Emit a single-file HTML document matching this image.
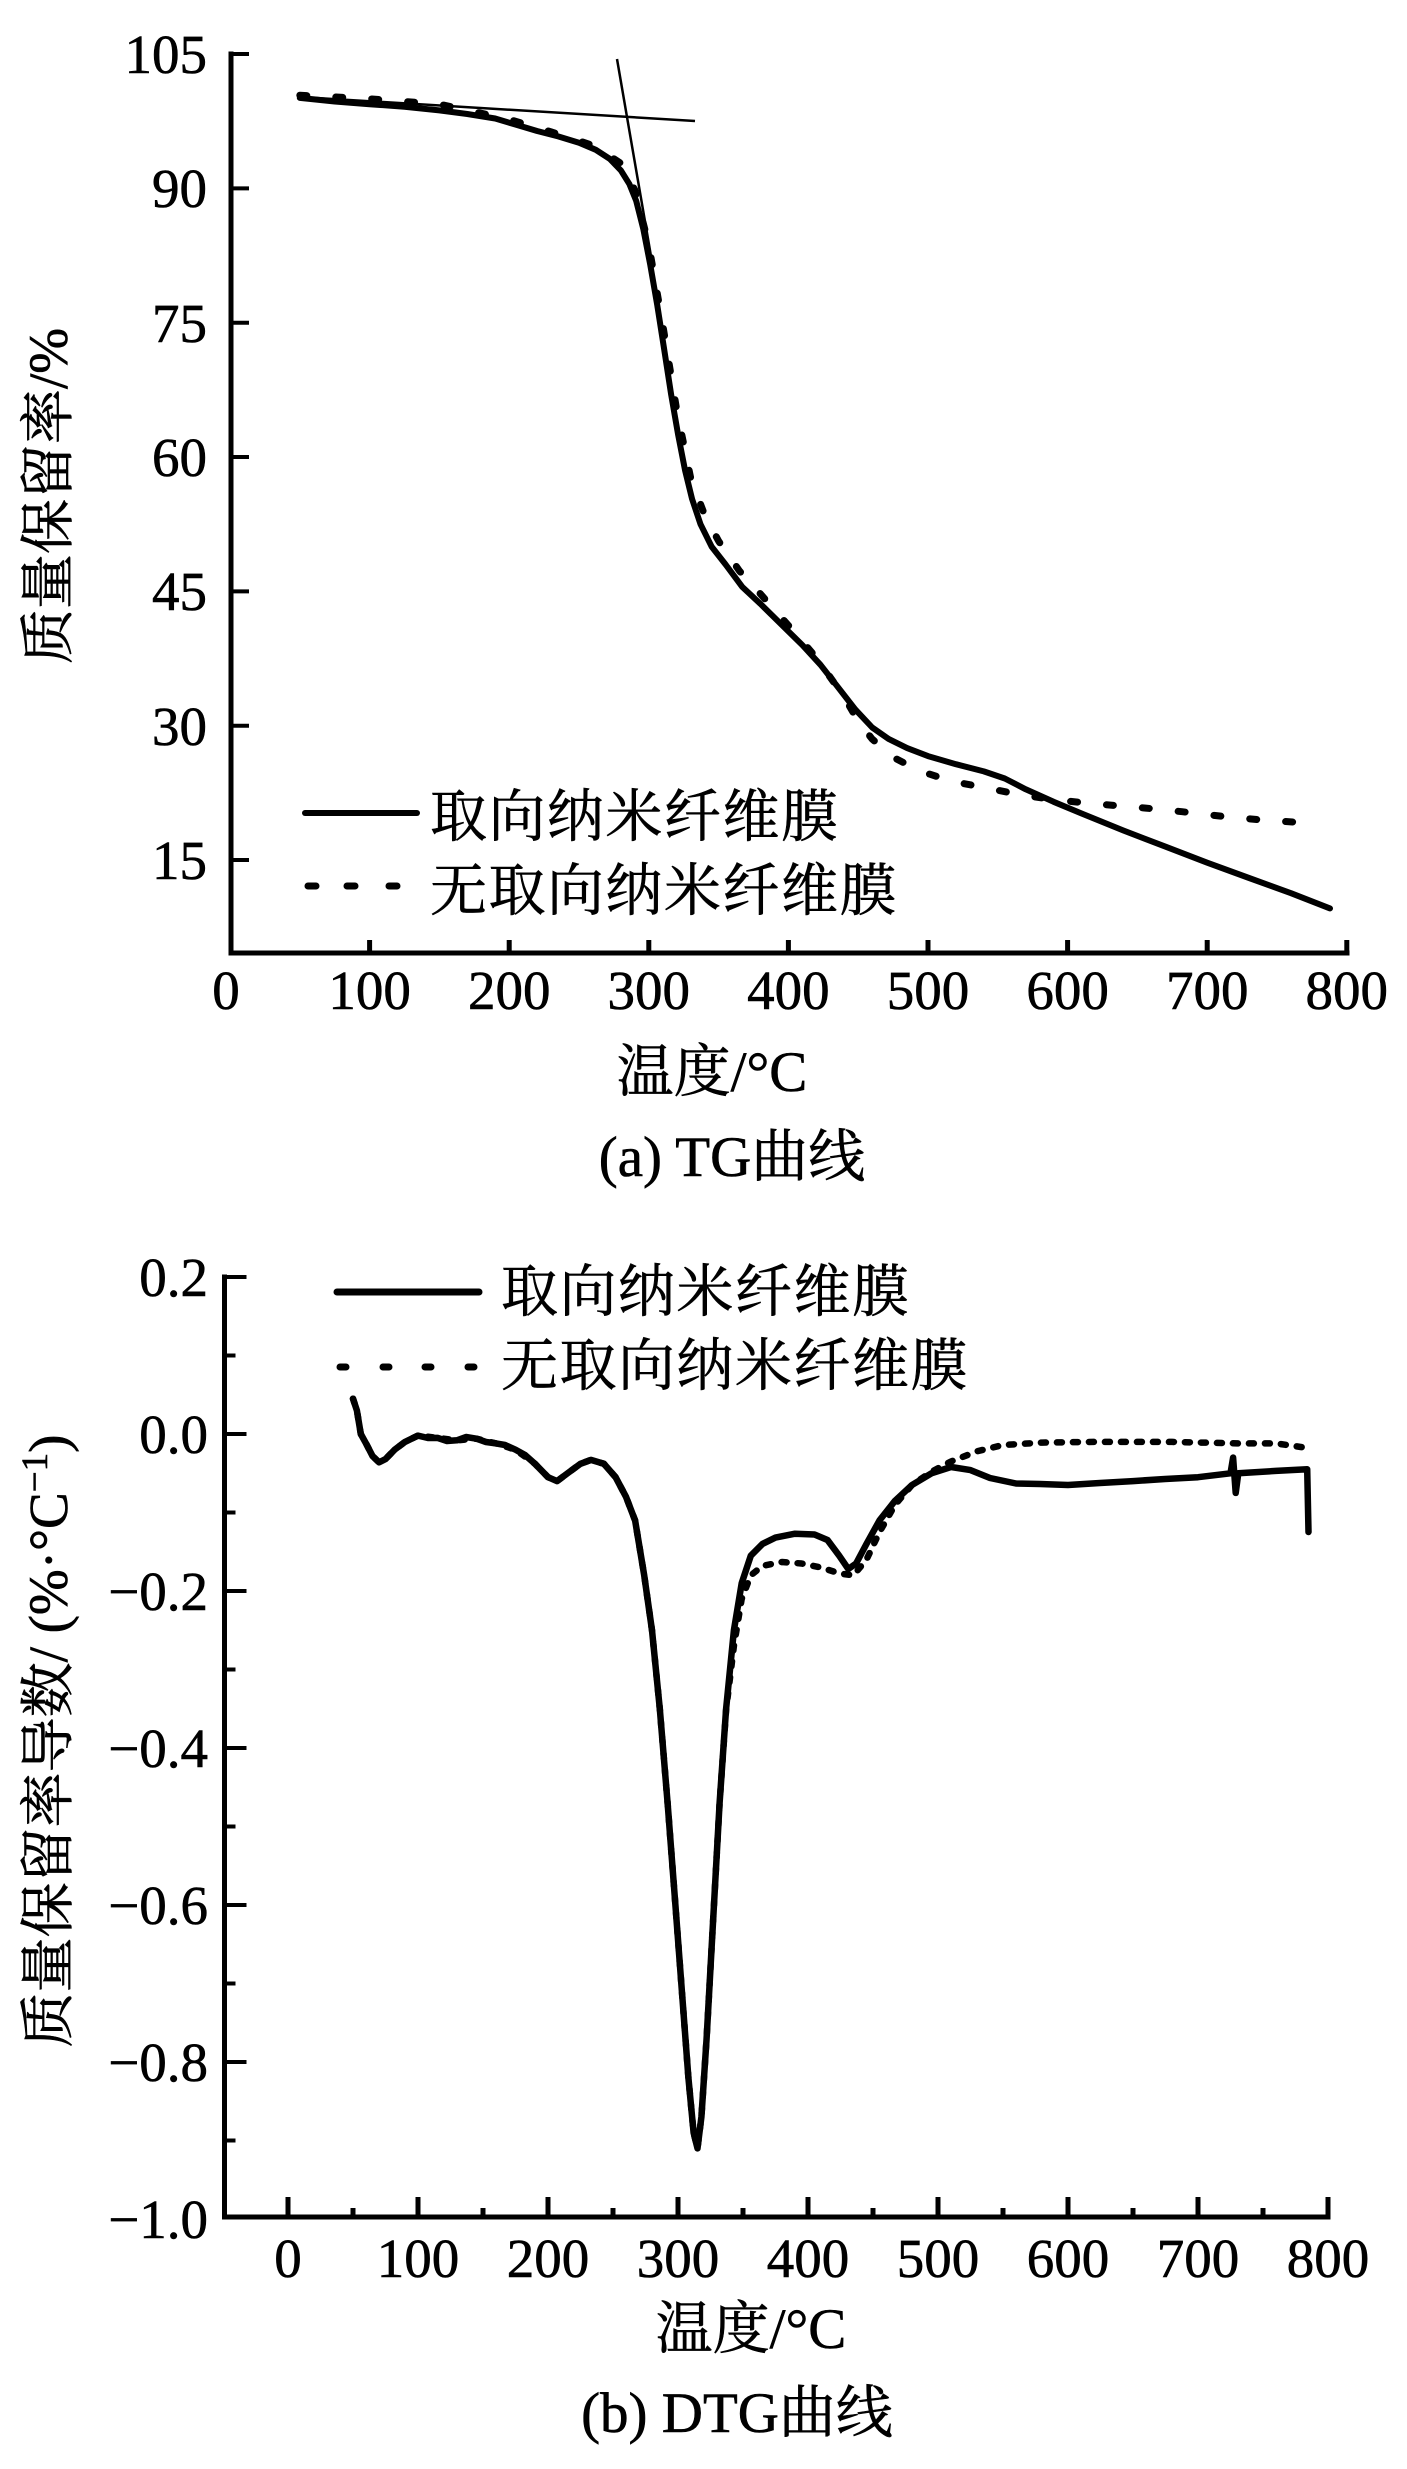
<!DOCTYPE html>
<html><head><meta charset="utf-8"><style>
html,body{margin:0;padding:0;background:#fff;}
svg{display:block;}
.t{font-family:"Liberation Serif","Noto Serif CJK SC",serif;font-size:55px;fill:#000;stroke:#000;stroke-width:0.6px;}
.c{font-family:"Liberation Serif","Noto Serif CJK SC",serif;font-size:57px;fill:#000;stroke:#000;stroke-width:0.6px;}
</style></head><body>
<svg width="1407" height="2469" viewBox="0 0 1407 2469" xmlns="http://www.w3.org/2000/svg">
<rect width="1407" height="2469" fill="#fff"/>

<!-- ===== TOP: TG ===== -->
<g stroke="#000" fill="none">
<path d="M231 54 L231 953 L1347 953" stroke-width="5" stroke-linecap="square"/>
<path d="M231 54h18M231 188.4h18M231 322.7h18M231 457h18M231 591.4h18M231 725.7h18M231 860h18" stroke-width="4"/>
<path d="M369.6 953v-13M509.2 953v-13M648.8 953v-13M788.4 953v-13M928 953v-13M1067.6 953v-13M1207.2 953v-13M1346.8 953v-13" stroke-width="5"/>
</g>
<g class="t" text-anchor="end">
<text x="207" y="73">105</text>
<text x="207" y="207">90</text>
<text x="207" y="342">75</text>
<text x="207" y="476">60</text>
<text x="207" y="610">45</text>
<text x="207" y="745">30</text>
<text x="207" y="879">15</text>
</g>
<g class="t" text-anchor="middle">
<text x="226" y="1009">0</text>
<text x="369.6" y="1009">100</text>
<text x="509.2" y="1009">200</text>
<text x="648.8" y="1009">300</text>
<text x="788.4" y="1009">400</text>
<text x="928" y="1009">500</text>
<text x="1067.6" y="1009">600</text>
<text x="1207.2" y="1009">700</text>
<text x="1346.8" y="1009">800</text>
</g>
<text class="t" transform="translate(47,496) rotate(-90)" y="20" text-anchor="middle" font-size="57">质量保留率/%</text>
<text class="c" x="712" y="1091" text-anchor="middle">温度/°C</text>
<text class="c" x="732" y="1176" text-anchor="middle">(a) TG曲线</text>

<!-- tangents -->
<g stroke="#000" stroke-width="2.5" fill="none">
<line x1="300" y1="97" x2="695" y2="121"/>
<line x1="617" y1="59" x2="652" y2="262"/>
</g>

<!-- TG solid -->
<polyline fill="none" stroke="#000" stroke-width="6" stroke-linejoin="round" stroke-linecap="round" points="
299.8,97.9 334.7,101.5 369.6,104.2 404.5,106.8 439.4,110.4 467.3,114.0 495.2,118.5 516.2,124.8 537.1,131.0 558.1,136.4 579.0,142.7 595.8,149.8 609.7,158.8 620.9,170.4 629.3,183.9 636.2,200.9 643.2,228.6 650.2,264.5 657.2,304.8 664.2,349.5 671.1,394.3 678.1,434.6 685.1,470.5 692.1,499.1 700.5,524.2 711.6,546.6 725.6,564.5 742.3,586.9 760.5,603.9 781.4,624.5 802.4,645.1 820.5,664.8 837.3,686.3 855.4,709.6 872.2,727.5 888.9,739.1 907.1,748.1 928.0,756.1 955.9,764.2 983.8,771.4 1004.8,778.5 1025.7,789.3 1053.6,801.8 1081.6,813.5 1123.4,830.5 1165.3,846.6 1207.2,862.7 1249.1,878.0 1291.0,893.2 1330.0,908.4"/>

<!-- TG dotted -->
<polyline fill="none" stroke="#000" stroke-width="7" stroke-linecap="round" stroke-linejoin="round" stroke-dasharray="7 29" points="
299.8,95.2 369.6,98.8 439.4,104.2 509.2,119.4 551.1,131.9 593.0,145.4 620.9,163.3 634.8,190 648.8,245 662.8,325 676.7,410 690.7,478 704.6,515 718.6,541 739.5,571 760.5,594 788.4,625.4 816.3,657.6 844.2,697.0 858.2,721.2 872.2,739.1 894.5,758.0 921.0,771.4 951.7,781.2 983.8,787.5 1020.1,794.7 1056.4,800.0 1092.7,803.6 1145.8,808.1 1182.1,811.7 1221.2,816.2 1258.9,819.7 1297.9,822.4"/>

<!-- TG legend -->
<line x1="305" y1="813" x2="417" y2="813" stroke="#000" stroke-width="6" stroke-linecap="round"/>
<path d="M308 886h8M347 886h8M389 886h8" stroke="#000" stroke-width="7" stroke-linecap="round"/>
<text class="c" x="430" y="836" letter-spacing="1.5">取向纳米纤维膜</text>
<text class="c" x="430" y="910" letter-spacing="1.5">无取向纳米纤维膜</text>

<!-- ===== BOTTOM: DTG ===== -->
<g stroke="#000" fill="none">
<path d="M224.5 1277 L224.5 2217 L1328 2217" stroke-width="5" stroke-linecap="square"/>
<path d="M224.5 1277h22M224.5 1434h22M224.5 1591h22M224.5 1748h22M224.5 1905h22M224.5 2062h22" stroke-width="4"/>
<path d="M224.5 1355.5h11M224.5 1512.5h11M224.5 1669.5h11M224.5 1826.5h11M224.5 1983.5h11M224.5 2140.5h11" stroke-width="4"/>
<path d="M288 2217v-20M418 2217v-20M548 2217v-20M678 2217v-20M808 2217v-20M938 2217v-20M1068 2217v-20M1198 2217v-20M1328 2217v-20" stroke-width="5"/>
<path d="M353 2217v-9M483 2217v-9M613 2217v-9M743 2217v-9M873 2217v-9M1003 2217v-9M1133 2217v-9M1263 2217v-9" stroke-width="5"/>
</g>
<g class="t" text-anchor="end">
<text x="208" y="1296">0.2</text>
<text x="208" y="1453">0.0</text>
<text x="208" y="1610">−0.2</text>
<text x="208" y="1767">−0.4</text>
<text x="208" y="1924">−0.6</text>
<text x="208" y="2081">−0.8</text>
<text x="208" y="2238">−1.0</text>
</g>
<g class="t" text-anchor="middle">
<text x="288" y="2277">0</text>
<text x="418" y="2277">100</text>
<text x="548" y="2277">200</text>
<text x="678" y="2277">300</text>
<text x="808" y="2277">400</text>
<text x="938" y="2277">500</text>
<text x="1068" y="2277">600</text>
<text x="1198" y="2277">700</text>
<text x="1328" y="2277">800</text>
</g>
<text class="t" transform="translate(47,1741) rotate(-90)" y="20" text-anchor="middle" font-size="58">质量保留率导数/ (%·°C<tspan font-size="37" dy="-20">−1</tspan><tspan dy="20">)</tspan></text>
<text class="c" x="751" y="2348" text-anchor="middle">温度/°C</text>
<text class="c" x="737" y="2432" text-anchor="middle">(b) DTG曲线</text>

<!-- DTG dotted -->
<polyline fill="none" stroke="#000" stroke-width="6.5" stroke-linecap="round" stroke-linejoin="round" stroke-dasharray="5 11" points="
353,1398.7 356.9,1410.5 360.8,1434 366,1443.4 372.5,1456 379,1462.3 385.5,1459.1 394.6,1449.7 405,1441.9 418,1435.6 437.5,1437.9 457,1440.3 476.5,1438.7 496,1443.4 515.5,1449.7 535,1463.8 548,1477.2 557.1,1481.1 567.5,1473.3 580.5,1463.8 590.9,1459.9 603.9,1463.8 615.6,1477.2 626,1496.8 635.1,1520.4 644.2,1575.3 652,1630.3 659.8,1708.8 667.6,1803 675.4,1905 681.9,1991.4 688.4,2077.7 693.6,2132.7 697.5,2148.4 701.4,2117 706.6,2038.5 713.1,1920.7 719.6,1803 726.1,1710 733.9,1646 741.7,1598.9 750.8,1575.3 762.5,1565.9 782,1562 801.5,1563.5 821,1567.5 840.5,1573.7 853.5,1575.3 866.5,1559.6 879.5,1532.1 895.1,1504.7 912,1485 931.5,1471.7 951,1461.5 977,1451.3 1003,1445 1042,1442.6 1094,1441.9 1172,1441.9 1237,1443.4 1276,1443.4 1308.5,1448.1"/>

<!-- DTG solid -->
<polyline fill="none" stroke="#000" stroke-width="6.5" stroke-linejoin="round" stroke-linecap="round" points="
353,1398.7 356.9,1410.5 360.8,1434 366,1443.4 372.5,1456 379,1462.3 385.5,1459.1 394.6,1449.7 405,1441.9 418,1435.6 428,1438 437.5,1437.9 447,1441 457,1440.3 466,1437 476.5,1438.7 486,1442 496,1443.4 505,1445 515.5,1449.7 525,1455 535,1463.8 548,1477.2 557.1,1481.1 567.5,1473.3 580.5,1463.8 590.9,1459.9 603.9,1463.8 615.6,1477.2 626,1496.8 635.1,1520.4 644.2,1575.3 652,1630.3 659.8,1708.8 667.6,1803 675.4,1905 681.9,1991.4 688.4,2077.7 693.6,2132.7 697.5,2148.4 701.4,2117 706.6,2038.5 713.1,1920.7 719.6,1803 726.1,1708.8 733.9,1630.3 741.7,1583.2 750.8,1555.7 762.5,1543.9 775.5,1537.6 795,1533.7 814.5,1534.5 827.5,1540 839.2,1555.7 848.3,1569 856.1,1563.5 866.5,1543.9 879.5,1520.4 895.1,1500.7 912,1485 931.5,1473.3 951,1467 970.5,1470.1 990,1478 1016,1483.5 1040,1484 1068,1485 1100,1483 1133,1481.1 1165,1479 1198,1477.2 1230.5,1473.3 1233.1,1457.6 1235.7,1492.9 1238.3,1473.3 1276,1470.9 1307.2,1469.3 1308.5,1532"/>

<!-- DTG legend -->
<line x1="337" y1="1292" x2="479" y2="1292" stroke="#000" stroke-width="7" stroke-linecap="round"/>
<path d="M340 1367h6M383 1367h6M425 1367h6M468 1367h6" stroke="#000" stroke-width="7" stroke-linecap="round"/>
<text class="c" x="501" y="1311" letter-spacing="1.5">取向纳米纤维膜</text>
<text class="c" x="501" y="1385" letter-spacing="1.5">无取向纳米纤维膜</text>
</svg>
</body></html>
